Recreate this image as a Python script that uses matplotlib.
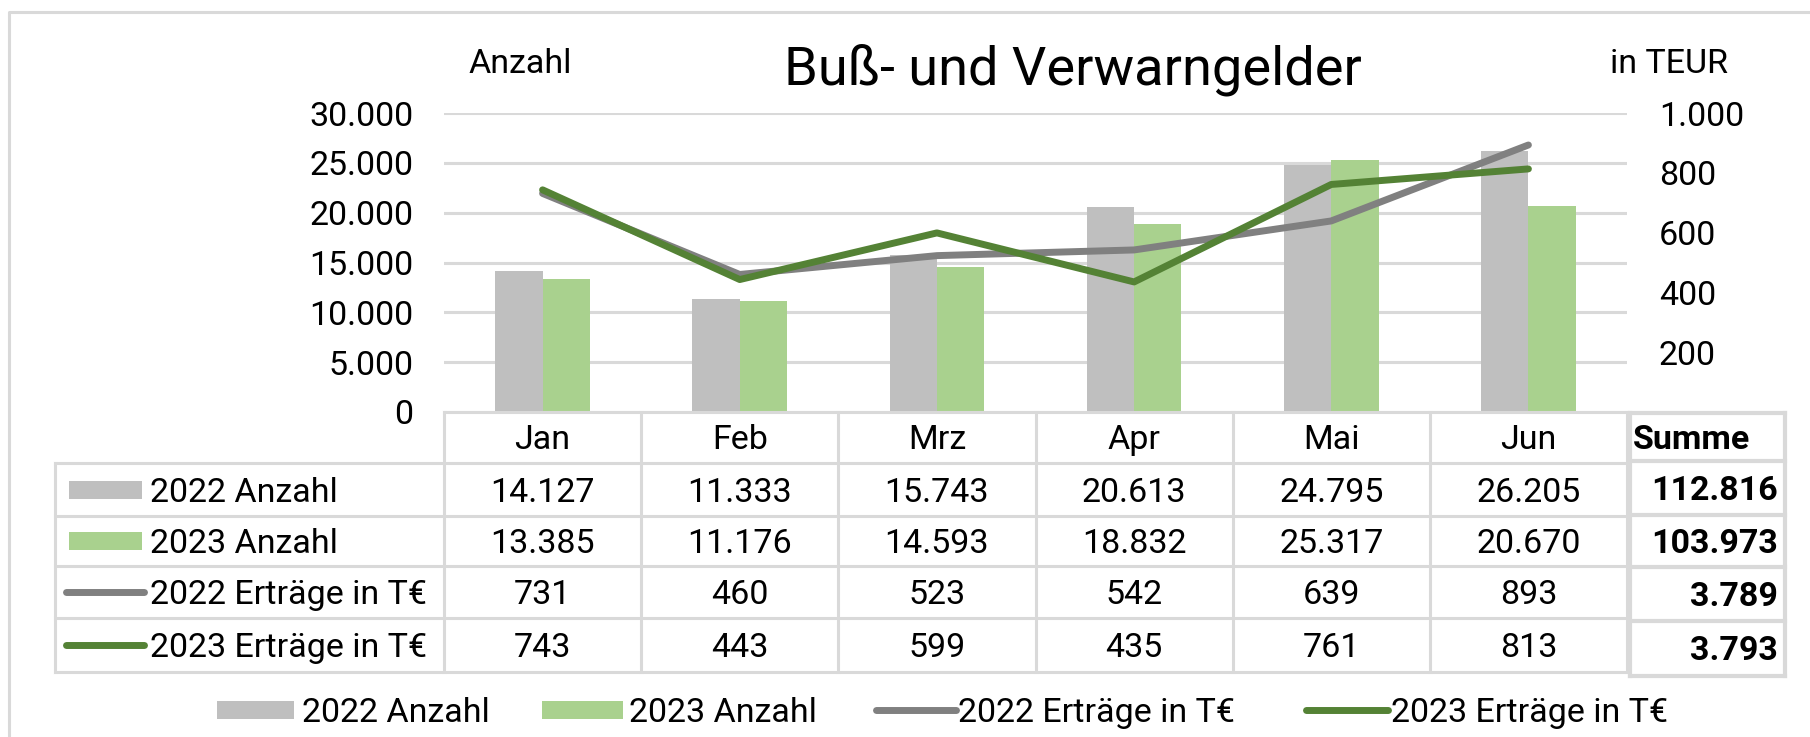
import numpy as np
import matplotlib
matplotlib.use('Agg')
import matplotlib.pyplot as plt
from matplotlib.patches import Rectangle
from matplotlib.transforms import blended_transform_factory

months = ['Jan', 'Feb', 'Mrz', 'Apr', 'Mai', 'Jun']
anzahl_2022 = [14127, 11333, 15743, 20613, 24795, 26205]
anzahl_2023 = [13385, 11176, 14593, 18832, 25317, 20670]
ertrag_2022 = [731, 460, 523, 542, 639, 893]
ertrag_2023 = [743, 443, 599, 435, 761, 813]
summen = [112816, 103973, 3789, 3793]
series_names = ['2022 Anzahl', '2023 Anzahl', '2022 Erträge in T€', '2023 Erträge in T€']

GREY_BAR = '#BFBFBF'
GREEN_BAR = '#A9D18E'
GREY_LINE = '#808080'
GREEN_LINE = '#548235'
GRID = '#D9D9D9'

W, H = 1810, 737
plt.rcParams['font.family'] = ['Roboto', 'DejaVu Sans']
plt.rcParams['font.size'] = 24.5


def de(v):
    return f'{v:,}'.replace(',', '.')


def fx(x):
    return x / W


def fy(y):
    return 1 - y / H


fig = plt.figure(figsize=(W / 100, H / 100), dpi=100)
ax = fig.add_axes([fx(444), fy(412), fx(1627) - fx(444), fy(113) - fy(412)])
ax2 = ax.twinx()

x = np.arange(len(months))
bw = 0.24
ax.bar(x - bw / 2, anzahl_2022, bw, color=GREY_BAR, zorder=2)
ax.bar(x + bw / 2, anzahl_2023, bw, color=GREEN_BAR, zorder=2)
ax.set_xlim(-0.5, len(months) - 0.5)
ax.set_ylim(0, 30000)
yt = list(range(0, 30001, 5000))
ax.set_yticks(yt)
ax.set_yticklabels([de(v) for v in yt])
ax.set_xticks([])
ax.grid(axis='y', color=GRID, lw=2.2)
ax.set_axisbelow(True)
ax.tick_params(length=0, pad=22)

ax2.plot(x, ertrag_2022, color=GREY_LINE, lw=5, solid_capstyle='round')
ax2.plot(x, ertrag_2023, color=GREEN_LINE, lw=5, solid_capstyle='round')
ax2.set_ylim(0, 1000)
yt2 = list(range(200, 1001, 200))
ax2.set_yticks(yt2)
ax2.set_yticklabels([de(v) for v in yt2])
ax2.tick_params(length=0, pad=23)
for a in (ax, ax2):
    for s in a.spines.values():
        s.set_visible(False)

# overlay in pixel coordinates for table, titles, legend
ov = fig.add_axes([0, 0, 1, 1])
ov.set_xlim(0, W)
ov.set_ylim(H, 0)
ov.axis('off')
tr = blended_transform_factory(ax.transData, ov.transData)

# outer frame (top + left)
ov.plot([9, 9, W], [H, 12, 12], color=GRID, lw=2.2)

ov.text(1073, 84, 'Buß- und Verwarngelder', fontsize=39, ha='center', va='baseline')
ov.text(468, 73, 'Anzahl', ha='left', va='baseline')
ov.text(1610, 73, 'in TEUR', ha='left', va='baseline')

# data table
rows = [412, 463, 516, 566, 618, 672]
t_left, c_left, c_right = 55, 444, 1627
lw_t = 2.2
ov.plot([c_left, c_right], [rows[0], rows[0]], color=GRID, lw=lw_t)
for r in rows[1:]:
    ov.plot([t_left, c_right], [r, r], color=GRID, lw=lw_t)
ov.plot([t_left, t_left], [rows[1], rows[-1]], color=GRID, lw=lw_t)
for i in range(len(months) + 1):
    ov.plot([i - 0.5, i - 0.5], [rows[0], rows[-1]], color=GRID, lw=lw_t, transform=tr)

for i, m in enumerate(months):
    ov.text(i, 449, m, ha='center', va='baseline', transform=tr)

values = [anzahl_2022, anzahl_2023, ertrag_2022, ertrag_2023]
for r, vals in enumerate(values):
    base = (rows[r + 1] + rows[r + 2]) / 2 + 12
    for i, v in enumerate(vals):
        ov.text(i, base, de(v), ha='center', va='baseline', transform=tr)

# row keys
for r, name in enumerate(series_names):
    mid = (rows[r + 1] + rows[r + 2]) / 2
    if r < 2:
        ov.add_patch(Rectangle((69, mid - 9), 73, 18, color=[GREY_BAR, GREEN_BAR][r], lw=0))
    else:
        ov.plot([66, 144], [mid, mid], color=[GREY_LINE, GREEN_LINE][r - 2], lw=5,
                solid_capstyle='round')
    ov.text(150, mid + 12, name, ha='left', va='baseline')

# Summe box
s_rows = [413, 461, 515, 567, 621, 676]
s_left, s_right = 1630, 1785
for r in s_rows:
    ov.plot([s_left, s_right], [r, r], color=GRID, lw=3)
for xx in (s_left, s_right):
    ov.plot([xx, xx], [s_rows[0], s_rows[-1]], color=GRID, lw=3)
ov.text(1633, 449, 'Summe', ha='left', va='baseline', fontweight='bold')
for r, v in enumerate(summen):
    base = (s_rows[r + 1] + s_rows[r + 2]) / 2 + 12
    ov.text(1778, base, de(v), ha='right', va='baseline', fontweight='bold')

# bottom legend
leg_y = 710
ov.add_patch(Rectangle((217, leg_y - 9), 77, 18, color=GREY_BAR, lw=0))
ov.text(302, leg_y + 12, series_names[0], ha='left', va='baseline')
ov.add_patch(Rectangle((542, leg_y - 9), 81, 18, color=GREEN_BAR, lw=0))
ov.text(629, leg_y + 12, series_names[1], ha='left', va='baseline')
ov.plot([876, 956], [leg_y, leg_y], color=GREY_LINE, lw=5, solid_capstyle='round')
ov.text(958, leg_y + 12, series_names[2], ha='left', va='baseline')
ov.plot([1306, 1388], [leg_y, leg_y], color=GREEN_LINE, lw=5, solid_capstyle='round')
ov.text(1391, leg_y + 12, series_names[3], ha='left', va='baseline')

fig.savefig('out.png', dpi=100)
